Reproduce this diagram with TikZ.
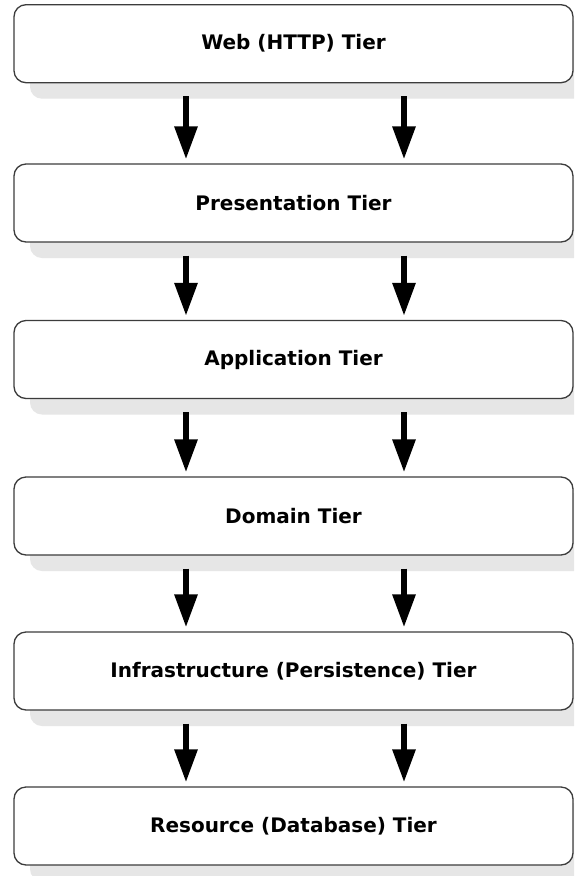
\documentclass[tikz,border=0pt]{standalone}
\usepackage{fontspec}
\setmainfont{DejaVu Sans}
\usetikzlibrary{arrows.meta,shadows}
\definecolor{edgegray}{HTML}{3C3C3C}
\definecolor{shadegray}{HTML}{E6E6E6}
\tikzset{
  tier/.style={draw=edgegray, line width=1.3pt, fill=white, rounded corners=12pt,
    minimum width=559pt, minimum height=78pt, inner sep=0pt,
    font=\fontsize{20}{24}\selectfont\bfseries,
    general shadow={fill=shadegray, draw=none, shadow xshift=16pt, shadow yshift=-16pt}},
  flow/.style={line width=6pt, -{Triangle[length=33pt,width=22pt]}}
}
\begin{document}
\begin{tikzpicture}[x=1pt,y=1pt]
  \useasboundingbox (0,0) rectangle (574,-876);
  \clip (0,0) rectangle (574,-876);
  \fill[white] (0,0) rectangle (574,-876);
  % the six tiers, top to bottom
  \node[tier] (web)   at (293.5,-43.7)  {Web (HTTP) Tier};
  \node[tier] (pres)  at (293.5,-203)   {Presentation Tier};
  \node[tier] (app)   at (293.5,-359.5) {Application Tier};
  \node[tier] (dom)   at (293.5,-516)   {Domain Tier};
  \node[tier] (infra) at (293.5,-671)   {Infrastructure (Persistence) Tier};
  \node[tier] (res)   at (293.5,-826)   {Resource (Database) Tier};
  % paired downward arrows between neighbouring tiers
  \foreach \a/\b in {web/pres, pres/app, app/dom, dom/infra, infra/res} {
    \draw[flow] ([xshift=-107.5pt,yshift=-13pt]\a.south) -- ([xshift=-107.5pt,yshift=4pt]\b.north);
    \draw[flow] ([xshift=110.5pt,yshift=-13pt]\a.south) -- ([xshift=110.5pt,yshift=4pt]\b.north);
  }
\end{tikzpicture}
\end{document}
